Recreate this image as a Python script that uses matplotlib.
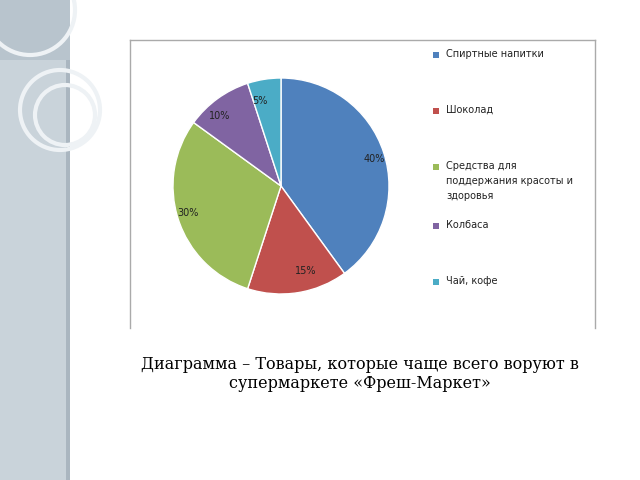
import matplotlib
matplotlib.use("Agg")
import matplotlib.pyplot as plt
from matplotlib.patches import Rectangle, Circle

categories = ["Спиртные напитки", "Шоколад", "Средства для\nподдержания красоты и\nздоровья", "Колбаса", "Чай, кофе"]
values = [40, 15, 30, 10, 5]
colors = ["#4f81bd", "#c0504d", "#9bbb59", "#8064a2", "#4bacc6"]
legend_y = [55, 111, 167, 226, 282]

W, H = 640, 480
fig = plt.figure(figsize=(6.4, 4.8), dpi=100)
fig.patch.set_facecolor("white")

bg = fig.add_axes([0, 0, 1, 1]); bg.set_xlim(0, W); bg.set_ylim(H, 0); bg.axis("off")
bg.add_patch(Rectangle((0, 0), 70, H, facecolor="#c9d3da", edgecolor="none"))
bg.add_patch(Rectangle((66, 0), 4, H, facecolor="#aab6c0", edgecolor="none"))
bg.add_patch(Rectangle((0, 0), 70, 60, facecolor="#b8c4cd", edgecolor="none"))
for (cx, cy, r) in [(30, 10, 45), (60, 110, 40), (65, 115, 30)]:
    bg.add_patch(Circle((cx, cy), r, facecolor="none", edgecolor="#eef2f5", lw=3))
bg.plot([130, 595], [40, 40], color="#aaaaaa", lw=1)
bg.plot([130, 130], [40, 328], color="#aaaaaa", lw=1)
bg.plot([595, 595], [40, 328], color="#aaaaaa", lw=1)

for c, lab, y in zip(colors, categories, legend_y):
    bg.add_patch(Rectangle((433, y - 3), 6, 6, facecolor=c, edgecolor="none"))
    bg.text(446, y - 6, lab, fontsize=7, va="top", ha="left", color="#222222", linespacing=1.6)

cx, cy, r = 281, 186, 108
ax = fig.add_axes([(cx - r) / W, 1 - (cy + r) / H, 2 * r / W, 2 * r / H])
wedges, texts = ax.pie(values, colors=colors, startangle=90, counterclock=False,
                       wedgeprops=dict(edgecolor="white", linewidth=1),
                       labels=[f"{v}%" for v in values], labeldistance=0.8,
                       textprops=dict(fontsize=7, color="#222222"))
ax.set_xlim(-1, 1); ax.set_ylim(-1, 1)
ax.set_aspect("equal")

fig.text(360 / W, 1 - 374 / H, "Диаграмма – Товары, которые чаще всего воруют в\nсупермаркете «Фреш-Маркет»",
         ha="center", va="center", fontsize=11.5, family="DejaVu Serif", linespacing=1.2)

fig.savefig("out.png", dpi=100)
